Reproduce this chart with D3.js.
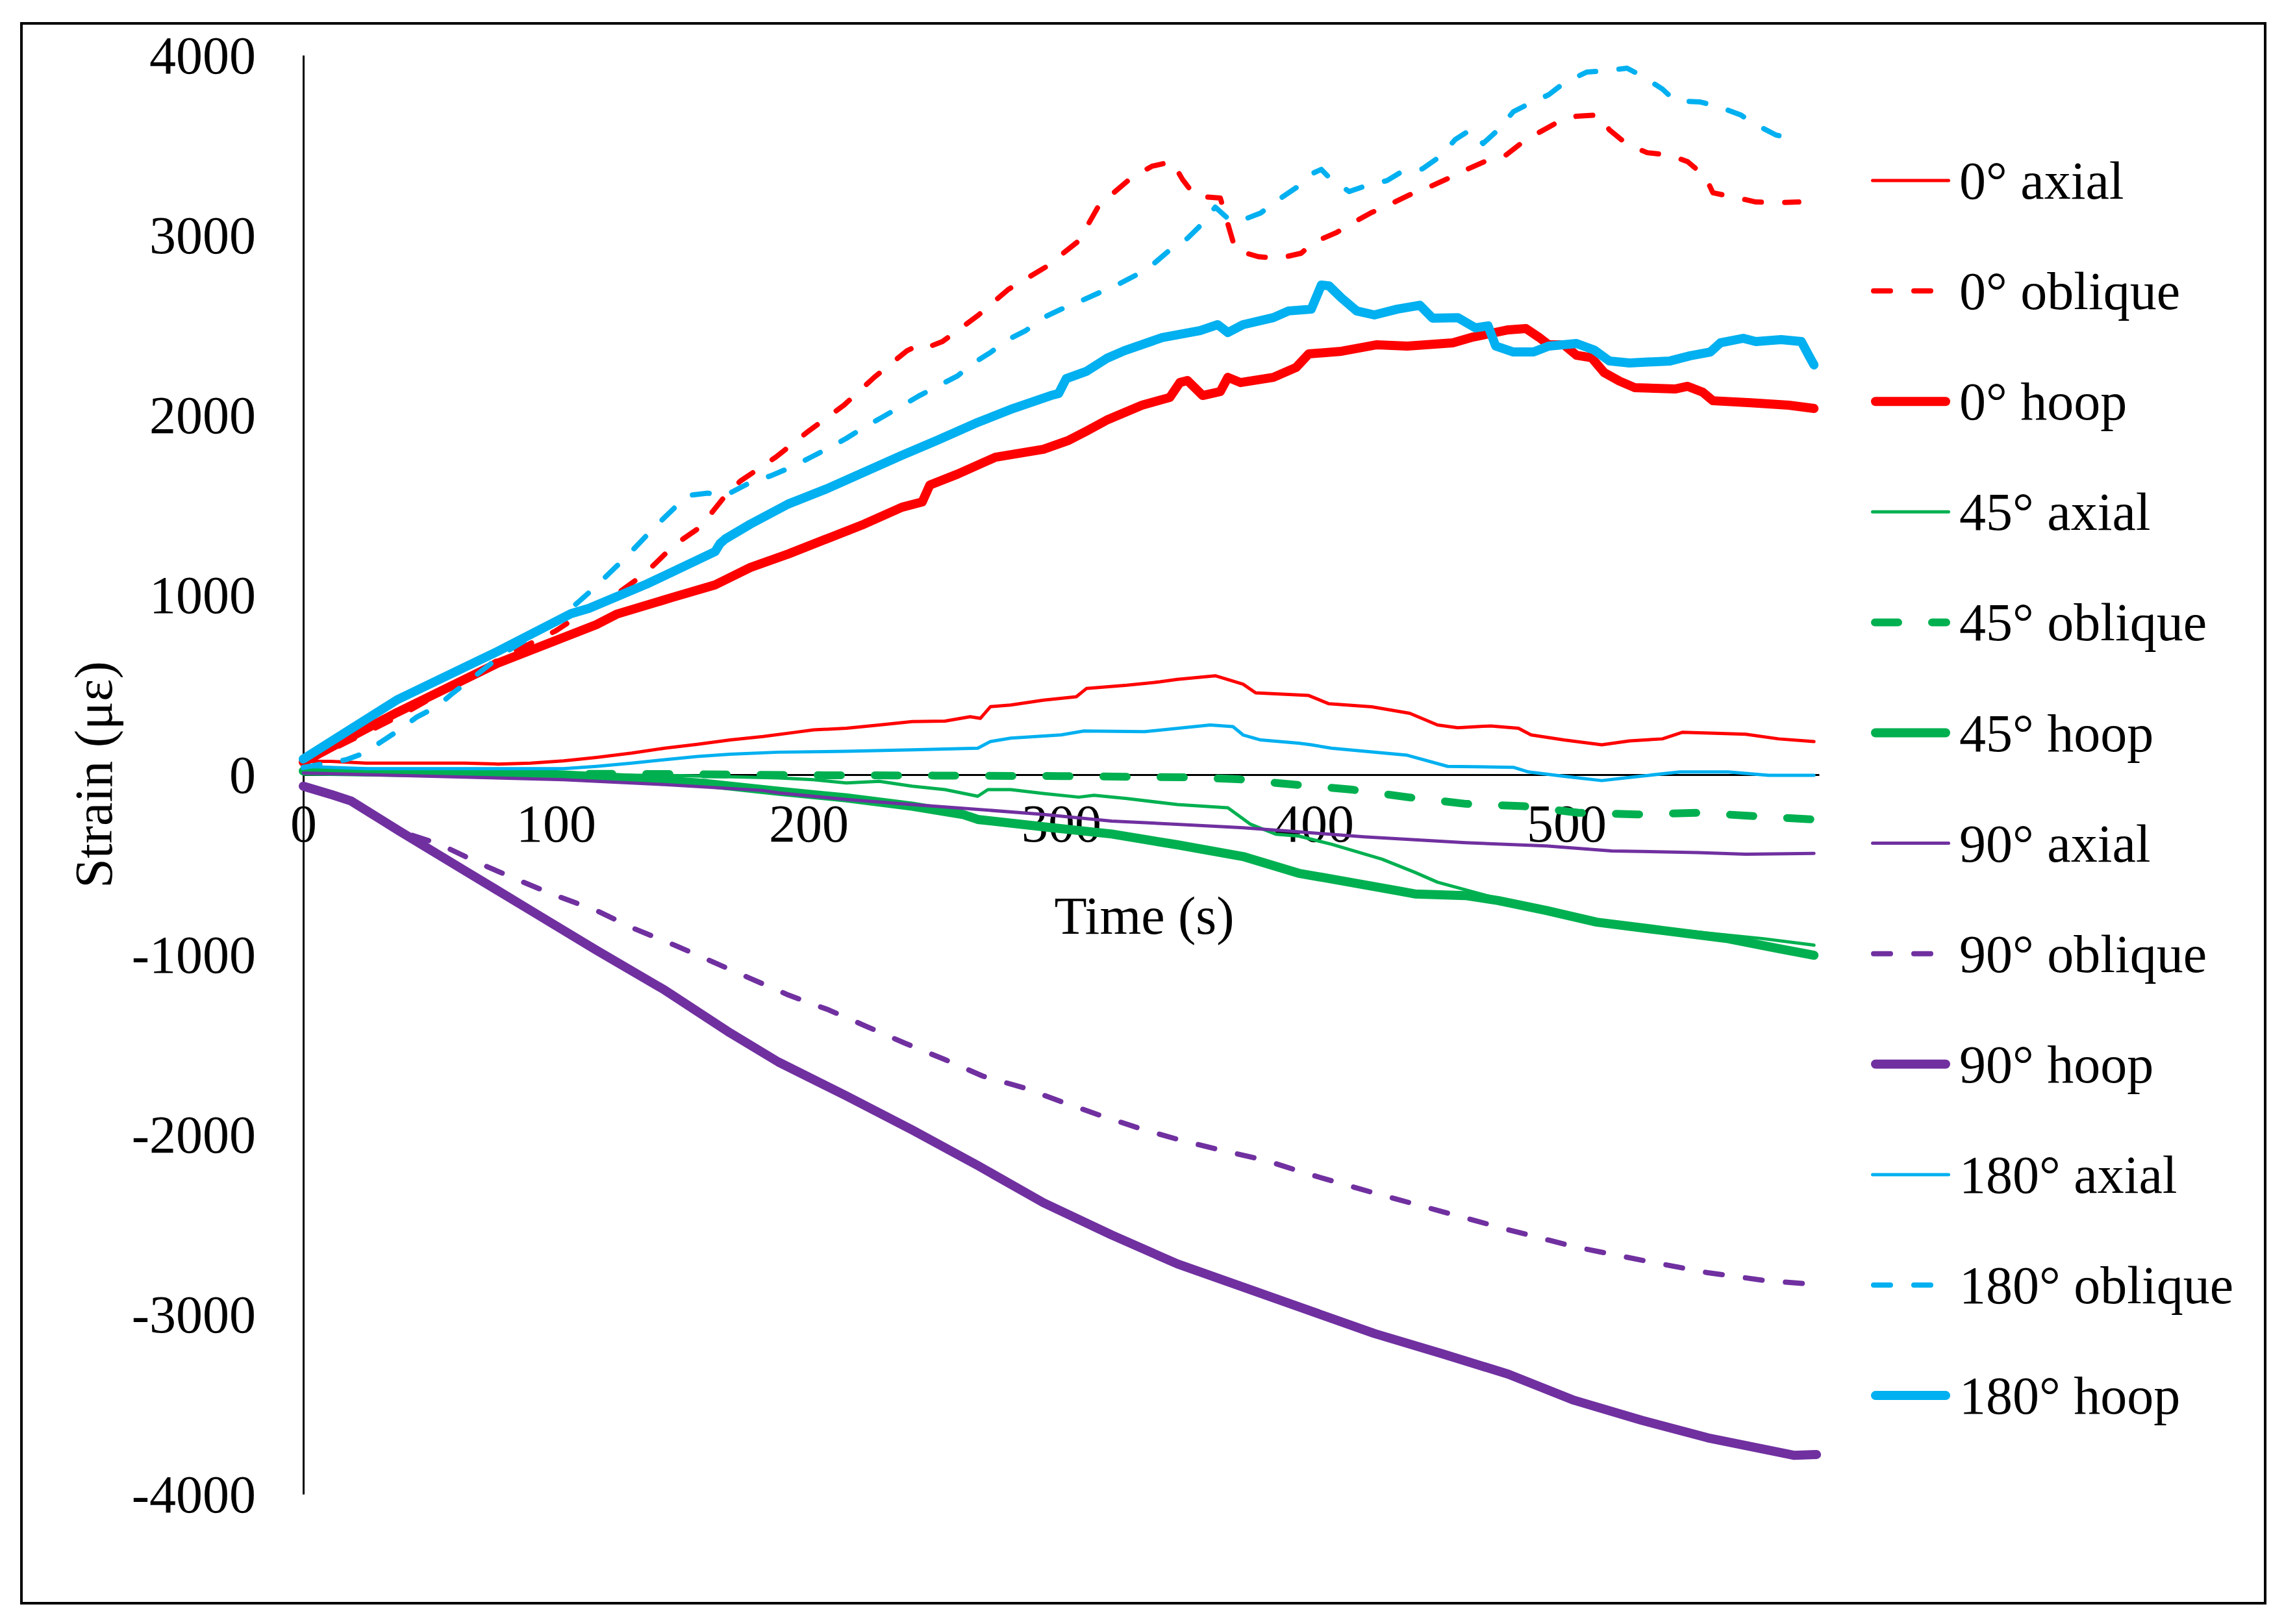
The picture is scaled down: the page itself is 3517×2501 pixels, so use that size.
<!DOCTYPE html>
<html>
<head>
<meta charset="utf-8">
<script src="https://cdn.jsdelivr.net/npm/d3@7"></script>
<style>
  body { margin: 0; background: #fff; }
  text { font-family: "Liberation Serif", "Times New Roman", serif; }
</style>
</head>
<body>
<div id="chart"></div>
<script>
// size of the picture
const width = 3517;
const height = 2501;

// ticks
const xTicks = [0, 100, 200, 300, 400, 500];
const yTicks = [-4000, -3000, -2000, -1000, 0, 1000, 2000, 3000, 4000];

// series, [time (s), strain (µε)]
const axial0 = [[0,74],[11,74],[25,64],[38,64],[51,64],[64,64],[77,59],[90,64],[103,77],[116,96],[130,120],[143,147],[156,169],[169,193],[182,212],[195,236],[202,249],[215,258],[228,276],[241,295],[254,298],[264,322],[268,313],[272,378],[280,387],[293,414],[306,433],[310,479],[326,497],[339,516],[346,530],[361,550],[372,503],[377,455],[398,440],[406,394],[423,377],[438,341],[449,276],[457,261],[470,271],[481,258],[486,221],[499,193],[514,166],[525,188],[538,199],[546,236],[559,230],[571,225],[584,199],[598,184]];
const oblique0 = [[0,60],[40,340],[80,660],[100,800],[117,957],[124,1004],[135,1115],[147,1278],[157,1375],[162,1462],[168,1567],[173,1632],[187,1765],[200,1910],[214,2054],[226,2209],[239,2357],[244,2390],[247,2375],[253,2408],[267,2552],[279,2697],[294,2823],[307,2968],[315,3166],[328,3321],[336,3383],[344,3408],[348,3310],[353,3217],[363,3206],[366,3061],[369,2917],[378,2880],[386,2870],[395,2899],[400,2960],[409,3014],[415,3065],[423,3126],[430,3170],[438,3224],[445,3263],[453,3314],[460,3361],[468,3411],[476,3444],[483,3520],[490,3577],[498,3639],[504,3661],[513,3668],[517,3585],[524,3505],[532,3458],[541,3444],[548,3408],[555,3325],[558,3235],[567,3209],[575,3184],[583,3180],[592,3184]];
const hoop0 = [[0,70],[37,345],[77,620],[116,834],[124,892],[146,985],[163,1055],[177,1152],[192,1227],[207,1310],[222,1393],[237,1487],[245,1516],[248,1610],[259,1671],[274,1765],[293,1809],[303,1859],[310,1910],[318,1971],[332,2054],[343,2097],[347,2180],[350,2191],[356,2108],[363,2130],[366,2209],[371,2180],[384,2209],[393,2264],[398,2339],[411,2354],[425,2390],[437,2383],[455,2401],[463,2433],[477,2473],[484,2480],[489,2433],[493,2390],[499,2390],[504,2332],[510,2318],[515,2235],[521,2188],[527,2152],[543,2144],[548,2159],[554,2126],[558,2079],[573,2068],[588,2054],[598,2036]];
const axial45 = [[0,15],[50,10],[100,0],[150,-5],[188,-18],[202,-28],[215,-46],[228,-37],[241,-64],[254,-83],[267,-120],[271,-83],[280,-83],[293,-105],[307,-125],[313,-115],[326,-133],[346,-166],[366,-184],[375,-276],[385,-331],[394,-341],[407,-387],[427,-470],[440,-543],[449,-598],[466,-663],[473,-690],[499,-773],[525,-838],[552,-875],[578,-912],[598,-948]];
const oblique45 = [[0,20],[50,10],[100,5],[150,3],[200,-3],[250,-5],[300,-8],[350,-15],[370,-25],[385,-46],[394,-57],[415,-83],[437,-125],[460,-162],[483,-175],[505,-212],[528,-221],[552,-212],[574,-230],[598,-249]];
const hoop45 = [[0,20],[50,10],[100,0],[130,-20],[160,-50],[188,-92],[215,-129],[241,-175],[261,-221],[267,-249],[293,-290],[320,-330],[346,-390],[372,-455],[394,-548],[407,-580],[433,-645],[440,-663],[460,-672],[473,-700],[492,-755],[512,-820],[538,-866],[564,-912],[584,-967],[598,-1004]];
const axial90 = [[0,9],[51,-9],[103,-28],[143,-55],[182,-88],[188,-101],[215,-138],[241,-166],[267,-193],[293,-221],[320,-258],[346,-276],[372,-295],[394,-318],[420,-346],[460,-378],[492,-396],[518,-424],[552,-433],[571,-442],[598,-438]];
const oblique90 = [[0,-64],[11,-110],[19,-147],[38,-313],[54,-387],[69,-488],[84,-580],[100,-672],[116,-755],[131,-856],[147,-948],[162,-1040],[177,-1133],[192,-1225],[208,-1308],[223,-1400],[238,-1492],[254,-1584],[269,-1676],[285,-1740],[301,-1823],[316,-1897],[332,-1971],[348,-2035],[364,-2090],[381,-2145],[398,-2221],[425,-2330],[451,-2430],[477,-2530],[503,-2624],[530,-2700],[556,-2769],[580,-2815],[599,-2834]];
const hoop90 = [[0,-64],[11,-110],[19,-147],[38,-313],[64,-534],[90,-755],[116,-976],[143,-1197],[169,-1436],[188,-1597],[215,-1786],[241,-1975],[267,-2173],[293,-2380],[320,-2559],[346,-2720],[372,-2849],[398,-2978],[424,-3107],[451,-3220],[477,-3333],[503,-3478],[530,-3590],[556,-3687],[590,-3784],[599,-3780]];
const axial180 = [[0,46],[25,33],[51,33],[77,33],[103,33],[116,46],[130,64],[143,83],[156,101],[169,114],[188,125],[215,130],[241,138],[267,147],[272,184],[280,203],[300,221],[309,243],[333,239],[359,276],[368,267],[372,221],[379,193],[394,175],[399,166],[407,147],[437,108],[453,46],[479,41],[485,15],[499,-9],[514,-33],[525,-15],[545,15],[564,15],[580,-4],[598,-4]];
const oblique180 = [[0,40],[17,83],[24,119],[31,184],[38,249],[45,321],[53,379],[59,451],[65,516],[80,680],[100,850],[115,1036],[128,1213],[139,1375],[152,1552],[160,1565],[167,1552],[178,1632],[185,1661],[194,1715],[200,1758],[208,1816],[215,1870],[222,1931],[229,1986],[237,2051],[244,2108],[251,2159],[259,2217],[265,2285],[272,2347],[279,2419],[286,2469],[293,2541],[300,2588],[308,2635],[315,2679],[323,2729],[330,2780],[337,2845],[343,2917],[350,2982],[356,3065],[361,3155],[367,3080],[373,3090],[379,3123],[387,3206],[393,3263],[400,3346],[403,3365],[406,3321],[414,3242],[420,3271],[429,3303],[435,3354],[443,3368],[450,3437],[456,3531],[462,3585],[467,3509],[473,3585],[479,3686],[485,3729],[493,3780],[499,3845],[508,3906],[515,3913],[524,3928],[530,3884],[538,3812],[543,3747],[553,3740],[560,3715],[569,3668],[575,3614],[583,3556],[591,3534]];
const hoop180 = [[0,87],[37,415],[77,686],[106,895],[113,924],[136,1060],[163,1240],[165,1285],[167,1310],[177,1393],[192,1505],[207,1588],[222,1682],[237,1776],[251,1859],[266,1953],[281,2036],[296,2108],[299,2119],[302,2202],[310,2242],[318,2314],[325,2357],[340,2430],[355,2469],[362,2502],[366,2458],[372,2502],[384,2541],[390,2578],[399,2588],[403,2722],[406,2718],[411,2650],[417,2578],[424,2556],[433,2588],[442,2610],[447,2538],[457,2541],[464,2484],[469,2495],[472,2383],[479,2350],[487,2350],[493,2383],[504,2397],[511,2361],[517,2300],[525,2289],[541,2300],[549,2329],[557,2350],[561,2401],[570,2426],[575,2408],[585,2419],[593,2408],[596,2329],[598,2278]];

const names = ["0° axial", "0° oblique", "0° hoop", "45° axial", "45° oblique", "45° hoop",
  "90° axial", "90° oblique", "90° hoop", "180° axial", "180° oblique", "180° hoop"];
const seriesData = [axial0, oblique0, hoop0, axial45, oblique45, hoop45,
  axial90, oblique90, hoop90, axial180, oblique180, hoop180];

const colors = { 0: "#FF0000", 45: "#00B050", 90: "#7030A0", 180: "#00B0F0" };
// line style per gauge type
function styleFor(name) {
  if (name.includes("axial")) return { w: 5, dash: null };
  if (name.includes("hoop")) return { w: 14, dash: null };
  if (name.startsWith("45")) return { w: 12, dash: "36,52" };
  return { w: 8, dash: "26,36" };
}

const svg = d3.select("#chart")
  .append("svg")
  .attr("width", width)
  .attr("height", height);

svg.append("rect")
  .attr("width", width)
  .attr("height", height)
  .attr("fill", "#fff");

// outer frame
svg.append("rect")
  .attr("x", 33)
  .attr("y", 36)
  .attr("width", 3455)
  .attr("height", 2433)
  .attr("fill", "none")
  .attr("stroke", "#000")
  .attr("stroke-width", 4);

const x = d3.scaleLinear().domain([0, 600]).range([467, 2801]);
const y = d3.scaleLinear().domain([-4000, 4000]).range([2301, 85]);

const fontSize = 82;

// y axis
const yAxis = svg.append("g")
  .attr("transform", `translate(${x(0)},0)`)
  .call(d3.axisLeft(y).tickValues(yTicks).tickSize(0).tickPadding(73).tickFormat(d => String(d)));
yAxis.select(".domain").attr("stroke", "#000").attr("stroke-width", 3);
yAxis.selectAll("text")
  .attr("font-family", "Liberation Serif")
  .attr("font-size", fontSize)
  .attr("fill", "#000")
  .attr("dy", "0.33em");
yAxis.attr("font-family", null).attr("font-size", null);

// x axis along zero
const xAxis = svg.append("g")
  .attr("transform", `translate(0,${y(0)})`)
  .call(d3.axisBottom(x).tickValues(xTicks).tickSize(0).tickPadding(45).tickFormat(d => String(d)));
xAxis.select(".domain").attr("stroke", "#000").attr("stroke-width", 3);
xAxis.selectAll("text")
  .attr("font-family", "Liberation Serif")
  .attr("font-size", fontSize)
  .attr("fill", "#000");
xAxis.attr("font-family", null).attr("font-size", null);

// axis titles
svg.append("text")
  .attr("x", 1762)
  .attr("y", 1438)
  .attr("text-anchor", "middle")
  .attr("font-size", fontSize)
  .text("Time (s)");

svg.append("text")
  .attr("transform", `translate(172,${y(0)}) rotate(-90)`)
  .attr("text-anchor", "middle")
  .attr("font-size", fontSize)
  .text("Strain (με)");

const line = d3.line()
  .x(d => x(d[0]))
  .y(d => y(d[1]));

seriesData.forEach((data, i) => {
  const name = names[i];
  const st = styleFor(name);
  const col = colors[parseInt(name)];
  svg.append("path")
    .attr("d", line(data))
    .attr("fill", "none")
    .attr("stroke", col)
    .attr("stroke-width", st.w)
    .attr("stroke-linejoin", "round")
    .attr("stroke-linecap", "round")
    .attr("stroke-dasharray", st.dash);
});

// legend
const legendTop = 278;
const legendStep = 170.1;
const legend = svg.append("g");
names.forEach((name, i) => {
  const st = styleFor(name);
  const col = colors[parseInt(name)];
  const ly = legendTop + i * legendStep;
  legend.append("line")
    .attr("x1", 2881 + st.w / 2)
    .attr("x2", 3003 - st.w / 2)
    .attr("y1", ly)
    .attr("y2", ly)
    .attr("stroke", col)
    .attr("stroke-width", st.w)
    .attr("stroke-linecap", "round")
    .attr("stroke-dasharray", st.dash);
  legend.append("text")
    .attr("x", 3017)
    .attr("y", ly + 28)
    .attr("font-size", fontSize)
    .attr("fill", "#000")
    .text(name);
});
</script>
</body>
</html>
